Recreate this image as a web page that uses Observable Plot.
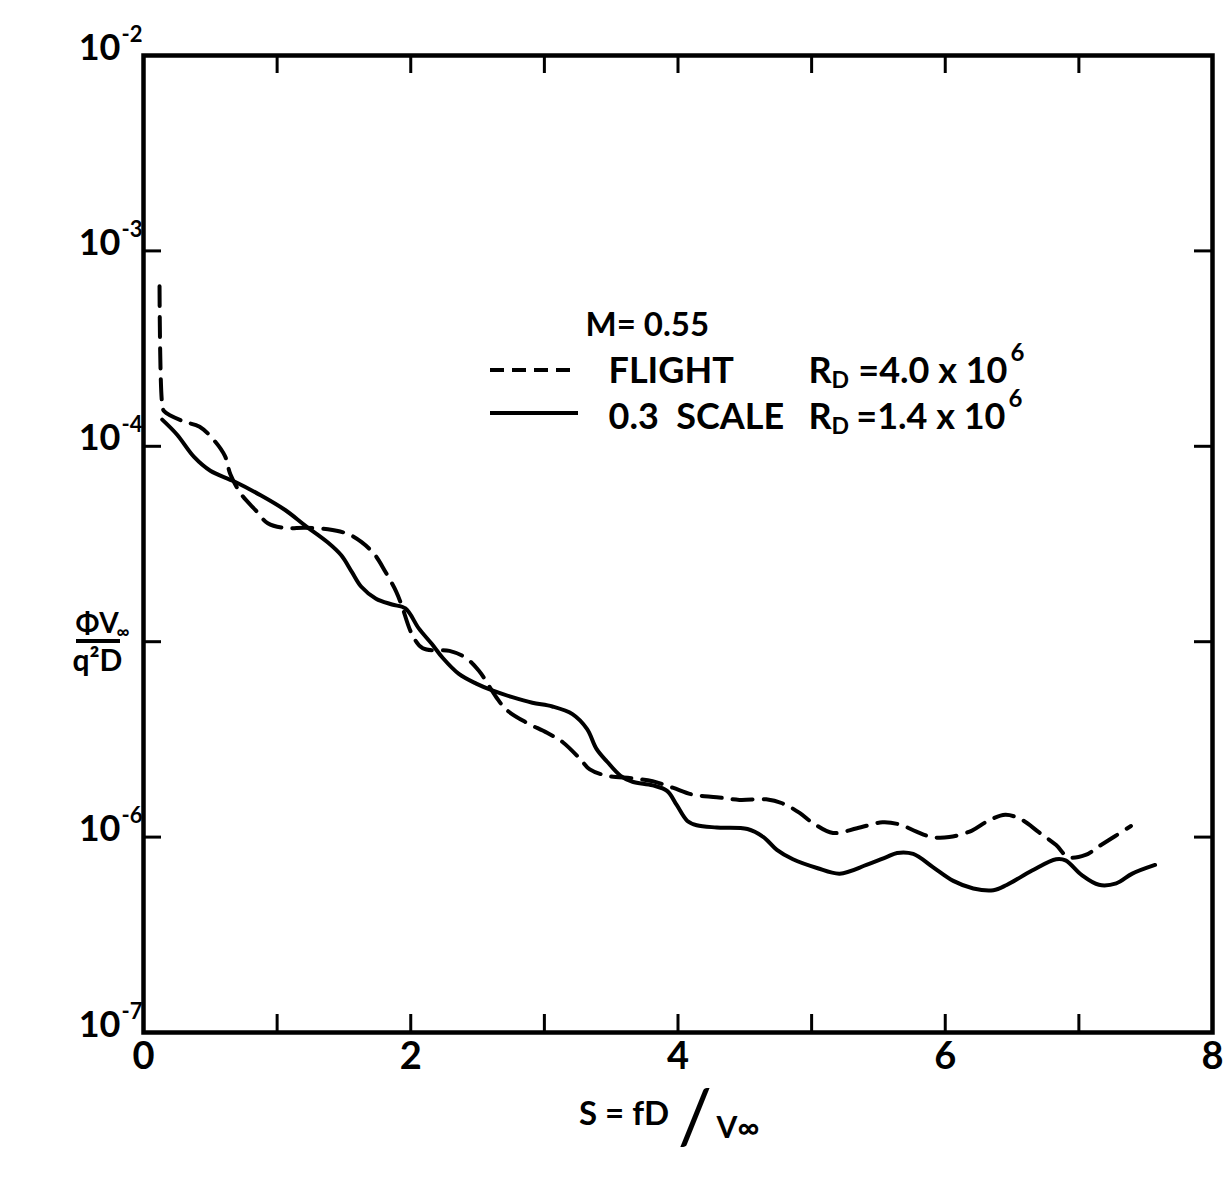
<!DOCTYPE html>
<html>
<head>
<meta charset="utf-8">
<script src="https://cdn.jsdelivr.net/npm/d3@7"></script>
<script src="https://cdn.jsdelivr.net/npm/@observablehq/plot@0.6"></script>
<style>
  html, body { margin: 0; padding: 0; background: #fff; }
  #chart { width: 1226px; height: 1178px; }
  svg { font-family: Lato, "DejaVu Sans", sans-serif; }
</style>
</head>
<body>
<div id="chart"></div>
<script>
// ---- Data ----
// FLIGHT (dashed), R_D = 4.0 x 10^6
const flightS = [0.12, 0.14, 0.155, 0.30, 0.42, 0.53, 0.61, 0.65, 0.73, 0.84, 0.93, 1.06, 1.21, 1.38, 1.53, 1.63, 1.73, 1.81, 1.89, 1.93, 2.01, 2.09, 2.29, 2.41, 2.51, 2.64, 2.72, 2.87, 3.02, 3.14, 3.27, 3.34, 3.47, 3.66, 3.81, 3.96, 4.11, 4.29, 4.46, 4.66, 4.78, 4.91, 5.01, 5.16, 5.34, 5.53, 5.66, 5.78, 5.90, 6.03, 6.20, 6.32, 6.45, 6.57, 6.70, 6.83, 6.92, 7.05, 7.15, 7.27, 7.39];
const flightPhi = [6.6e-4, 1.64e-4, 1.51e-4, 1.34e-4, 1.26e-4, 1.07e-4, 8.9e-5, 7.2e-5, 5.7e-5, 4.7e-5, 4.04e-5, 3.82e-5, 3.83e-5, 3.76e-5, 3.56e-5, 3.24e-5, 2.79e-5, 2.28e-5, 1.81e-5, 1.55e-5, 1.09e-5, 9.25e-6, 8.97e-6, 8.28e-6, 7.1e-6, 5.2e-6, 4.46e-6, 3.84e-6, 3.42e-6, 3.05e-6, 2.5e-6, 2.22e-6, 2.06e-6, 2.0e-6, 1.93e-6, 1.79e-6, 1.65e-6, 1.6e-6, 1.55e-6, 1.56e-6, 1.49e-6, 1.33e-6, 1.18e-6, 1.05e-6, 1.11e-6, 1.19e-6, 1.16e-6, 1.07e-6, 1.0e-6, 1.0e-6, 1.08e-6, 1.21e-6, 1.30e-6, 1.23e-6, 1.06e-6, 9.1e-7, 7.9e-7, 8.1e-7, 8.97e-7, 1.01e-6, 1.14e-6];

// 0.3 SCALE (solid), R_D = 1.4 x 10^6
const scaleS = [0.14, 0.25, 0.38, 0.50, 0.68, 0.88, 1.06, 1.21, 1.38, 1.48, 1.56, 1.63, 1.74, 1.86, 1.96, 2.06, 2.16, 2.24, 2.36, 2.49, 2.61, 2.76, 2.91, 3.06, 3.21, 3.32, 3.39, 3.47, 3.57, 3.66, 3.81, 3.92, 3.99, 4.07, 4.14, 4.29, 4.52, 4.64, 4.74, 4.86, 5.04, 5.21, 5.41, 5.56, 5.64, 5.76, 5.91, 6.06, 6.21, 6.36, 6.46, 6.65, 6.83, 6.90, 7.02, 7.15, 7.28, 7.40, 7.57];
const scalePhi = [1.37e-4, 1.15e-4, 8.8e-5, 7.5e-5, 6.6e-5, 5.6e-5, 4.72e-5, 3.93e-5, 3.22e-5, 2.77e-5, 2.27e-5, 1.91e-5, 1.66e-5, 1.55e-5, 1.48e-5, 1.17e-5, 9.7e-6, 8.25e-6, 6.84e-6, 6.1e-6, 5.63e-6, 5.2e-6, 4.87e-6, 4.66e-6, 4.26e-6, 3.57e-6, 2.83e-6, 2.43e-6, 2.06e-6, 1.92e-6, 1.84e-6, 1.72e-6, 1.46e-6, 1.21e-6, 1.15e-6, 1.12e-6, 1.10e-6, 1.0e-6, 8.6e-7, 7.7e-7, 6.95e-7, 6.5e-7, 7.2e-7, 7.9e-7, 8.3e-7, 8.2e-7, 7.0e-7, 5.97e-7, 5.46e-7, 5.35e-7, 5.69e-7, 6.74e-7, 7.7e-7, 7.6e-7, 6.4e-7, 5.7e-7, 5.8e-7, 6.5e-7, 7.2e-7];

// Ticks
const xTickLabels = [0, 2, 4, 6, 8];
const xTickMarks = [1, 2, 3, 4, 5, 6, 7];
const yTickMarks = [1e-3, 1e-4, 1e-5, 1e-6];
const yLabelValues = [1e-2, 1e-3, 1e-4, 1e-6, 1e-7];
const yLabelBase = "10";
const yLabelExps = ["-2", "-3", "-4", "-6", "-7"];

// Legend text
const legendTitle = "M= 0.55";
const seriesNames = ["FLIGHT", "0.3  SCALE"];
const seriesRe = ["=4.0 x 10", "=1.4 x 10"];
const seriesExp = ["6", "6"];

// ---- Build ----
const flight = flightS.map((s, i) => ({s, phi: flightPhi[i]}));
const scale = scaleS.map((s, i) => ({s, phi: scalePhi[i]}));
const yLabelData = yLabelValues.map((v, i) => ({v, e: yLabelExps[i]}));

const W = 1226, H = 1178;
const mL = 143, mR = 14, mT = 55, mB = 146;
const pw = W - mL - mR, ph = H - mT - mB;
const tick = 18;
const font = "Lato, 'DejaVu Sans', sans-serif";
const B = "bold";
const LF = 36;

const legendRow = (dy, name, re, exp, reEnd) => [
  Plot.text([name], {frameAnchor: "top-left", dx: 465, dy, fontSize: LF, fontWeight: B, textAnchor: "start"}),
  Plot.text(["R"], {frameAnchor: "top-left", dx: 665, dy, fontSize: LF, fontWeight: B, textAnchor: "start"}),
  Plot.text(["D"], {frameAnchor: "top-left", dx: 688, dy: dy + 14, fontSize: 23, fontWeight: B, textAnchor: "start"}),
  Plot.text([re], {frameAnchor: "top-left", dx: reEnd, dy, fontSize: LF, fontWeight: B, textAnchor: "end"}),
  Plot.text([exp], {frameAnchor: "top-left", dx: reEnd + 3, dy: dy - 14, fontSize: 24, fontWeight: B, textAnchor: "start"})
];

const plot = Plot.plot({
  width: W,
  height: H,
  marginLeft: mL, marginRight: mR, marginTop: mT, marginBottom: mB,
  style: {fontFamily: font, color: "#000", background: "#fff"},
  x: {domain: [0, 8], axis: null},
  y: {type: "log", domain: [1e-7, 1e-2], axis: null},
  marks: [
    Plot.frame({stroke: "#000", strokeWidth: 4.5}),
    // inward ticks
    Plot.tickX(xTickMarks, {x: d => d, insetBottom: ph - tick, strokeWidth: 3}),
    Plot.tickX(xTickMarks, {x: d => d, insetTop: ph - tick, strokeWidth: 3}),
    Plot.tickY(yTickMarks, {y: d => d, insetRight: pw - tick, strokeWidth: 3}),
    Plot.tickY(yTickMarks, {y: d => d, insetLeft: pw - tick, strokeWidth: 3}),
    // x tick labels
    Plot.axisX({ticks: xTickLabels, tickSize: 0, tickPadding: 10, fontSize: 38, fontWeight: B, tickFormat: d => String(d), label: null}),
    // y tick labels: "10" with raised exponent
    Plot.text(yLabelData, {y: "v", text: () => yLabelBase, frameAnchor: "left", textAnchor: "end", lineAnchor: "bottom", dx: -23, dy: 4, fontSize: 36, fontWeight: B}),
    Plot.text(yLabelData, {y: "v", text: "e", frameAnchor: "left", textAnchor: "start", lineAnchor: "bottom", dx: -22, dy: -14, fontSize: 22, fontWeight: B}),
    // curves
    Plot.line(flight, {x: "s", y: "phi", curve: "catmull-rom", stroke: "#000", strokeWidth: 4, strokeDasharray: "20,11", strokeLinecap: "round"}),
    Plot.line(scale, {x: "s", y: "phi", curve: "catmull-rom", stroke: "#000", strokeWidth: 4, strokeLinecap: "round"}),
    // y-axis label (fraction)
    Plot.text(["ΦV"], {frameAnchor: "left", dx: -68, dy: 80, fontSize: 28, fontWeight: B, textAnchor: "start"}),
    Plot.text(["∞"], {frameAnchor: "left", dx: -27, dy: 88, fontSize: 18, fontWeight: B, textAnchor: "start"}),
    Plot.text(["q²D"], {frameAnchor: "left", dx: -46, dy: 117, fontSize: 30, fontWeight: B, textAnchor: "middle"}),
    // x-axis label
    Plot.text(["S = fD"], {frameAnchor: "bottom", dx: -54, dy: 92, fontSize: 33, fontWeight: B, textAnchor: "middle"}),
    Plot.text(["/"], {frameAnchor: "bottom", dx: 17, dy: 111, fontSize: 76, fontWeight: "normal", textAnchor: "middle"}),
    Plot.text(["V∞"], {frameAnchor: "bottom", dx: 60, dy: 105, fontSize: 30, fontWeight: B, textAnchor: "middle"}),
    // legend text
    Plot.text([legendTitle], {frameAnchor: "top-left", dx: 442, dy: 257, fontSize: 33, fontWeight: B, textAnchor: "start"}),
    ...legendRow(302, seriesNames[0], seriesRe[0], seriesExp[0], 864),
    ...legendRow(348, seriesNames[1], seriesRe[1], seriesExp[1], 862)
  ]
});

// legend swatches and fraction bar
const svg = d3.select(plot);
svg.append("line").attr("x1", 490).attr("x2", 578).attr("y1", 370).attr("y2", 370)
  .attr("stroke", "#000").attr("stroke-width", 4).attr("stroke-dasharray", "14,8");
svg.append("line").attr("x1", 490).attr("x2", 578).attr("y1", 413).attr("y2", 413)
  .attr("stroke", "#000").attr("stroke-width", 4);
svg.append("line").attr("x1", 76).attr("x2", 120).attr("y1", 641).attr("y2", 641)
  .attr("stroke", "#000").attr("stroke-width", 4);

document.getElementById("chart").appendChild(plot);
</script>
</body>
</html>
